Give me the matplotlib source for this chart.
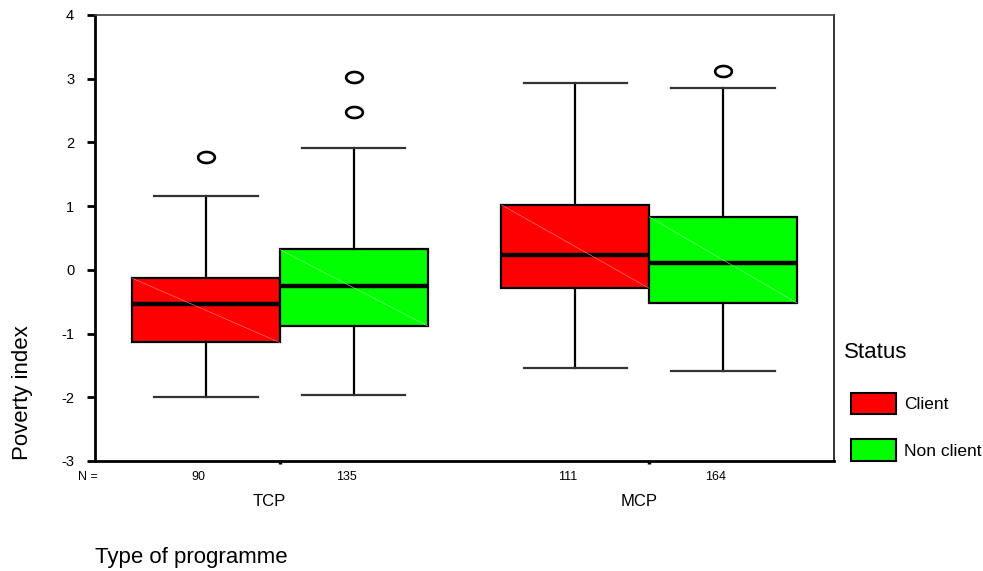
import numpy as np
import matplotlib
matplotlib.use('Agg')
import matplotlib.pyplot as plt
import matplotlib.transforms as mtransforms
from matplotlib.path import Path
from matplotlib.patches import Patch

plt.rcParams['font.family'] = ['Liberation Sans', 'DejaVu Sans']
plt.rcParams['axes.unicode_minus'] = False

# data (per programme, then per status)
programmes = ['TCP', 'MCP']
statuses = ['Client', 'Non client']
status_colors = ['#ff0000', '#00ff00']
diag_colors = ['#ff8c8c', '#8cff8c']
counts = [[90, 135], [111, 164]]

q1 = [[-1.14, -0.88], [-0.29, -0.52]]
med = [[-0.53, -0.25], [0.23, 0.11]]
q3 = [[-0.13, 0.32], [1.02, 0.83]]
whislo = [[-2.00, -1.96], [-1.54, -1.58]]
whishi = [[1.16, 1.92], [2.94, 2.85]]
outliers = [[[1.77], [3.02, 2.48]], [[], [3.12]]]

yticks = [-3, -2, -1, 0, 1, 2, 3, 4]

box_w = 0.4
offsets = [-0.2, 0.2]

# wide open ellipse used for outliers (SPSS style)
t = np.linspace(0, 2 * np.pi, 60)
ellipse = Path(np.column_stack([np.cos(t), 0.66 * np.sin(t)]), closed=True)

fig = plt.figure(figsize=(9.83, 5.71), dpi=100)
ax = fig.add_axes([95 / 983, 1 - 461 / 571, 739 / 983, 446 / 571])

for s, status in enumerate(statuses):
    stats = []
    pos = []
    for g in range(len(programmes)):
        stats.append(dict(med=med[g][s], q1=q1[g][s], q3=q3[g][s],
                          whislo=whislo[g][s], whishi=whishi[g][s],
                          fliers=outliers[g][s]))
        pos.append(g + 1 + offsets[s])
    ax.bxp(stats, positions=pos, widths=box_w, capwidths=0.28,
           patch_artist=True, manage_ticks=False,
           boxprops=dict(facecolor=status_colors[s], edgecolor='black', linewidth=1.6),
           medianprops=dict(color='black', linewidth=3.2),
           whiskerprops=dict(color='black', linewidth=1.6),
           capprops=dict(color='#333333', linewidth=1.6),
           flierprops=dict(marker=ellipse, markersize=12, markerfacecolor='none',
                           markeredgecolor='black', markeredgewidth=1.9, linestyle='none'))
    # faint diagonal seen inside the SPSS boxes
    for g in range(len(programmes)):
        x0 = g + 1 + offsets[s] - box_w / 2
        ax.plot([x0, x0 + box_w], [q3[g][s], q1[g][s]], color=diag_colors[s],
                linewidth=0.4, zorder=2.5)

ax.set_xlim(0.5, 2.5)
ax.set_ylim(-3, 4)
ax.set_yticks(yticks)
ax.set_yticklabels([str(v) for v in yticks], fontsize=10.5)
ax.tick_params(axis='y', direction='out', length=6, width=2, pad=9)
ax.set_xticks([1, 2])
ax.set_xticklabels(['', ''])
ax.tick_params(axis='x', direction='out', length=2.5, width=2.5)

ax.spines['left'].set_linewidth(2)
ax.spines['bottom'].set_linewidth(2)
ax.spines['top'].set_linewidth(1.2)
ax.spines['top'].set_color('#444444')
ax.spines['right'].set_linewidth(1.3)
ax.spines['right'].set_color('#222222')

trans = mtransforms.blended_transform_factory(ax.transData, ax.transAxes)
ax.text(-0.0101, -0.035, 'N =', transform=ax.transAxes, ha='center', va='center', fontsize=9)
for g, prog in enumerate(programmes):
    for s in range(len(statuses)):
        ax.text(g + 1 + offsets[s] - 0.02, -0.035, str(counts[g][s]), transform=trans,
                ha='center', va='center', fontsize=9)
    ax.text(g + 1 - 0.028, -0.0913, prog, transform=trans, ha='center', va='center', fontsize=12)

fig.text(22.7 / 983, 1 - 460 / 571, 'Poverty index', rotation=90, ha='center', va='bottom',
         fontsize=16)
fig.text(95 / 983, 1 - 557.7 / 571, 'Type of programme', ha='left', va='center', fontsize=16)

# legend: title drawn on its own so the swatches can sit a little to the right
fig.text(844 / 983, 1 - 352 / 571, 'Status', ha='left', va='center', fontsize=16)
handles = [Patch(facecolor=c, edgecolor='black', linewidth=1.5) for c in status_colors]
ax.legend(handles, statuses, loc='upper left',
          bbox_to_anchor=(851 / 983, 1 - 393 / 571), bbox_transform=fig.transFigure,
          frameon=False, fontsize=12.5, handlelength=2.6,
          handleheight=1.5, labelspacing=1.45, handletextpad=0.45,
          borderpad=0, borderaxespad=0)

fig.savefig('out.png', dpi=100)
